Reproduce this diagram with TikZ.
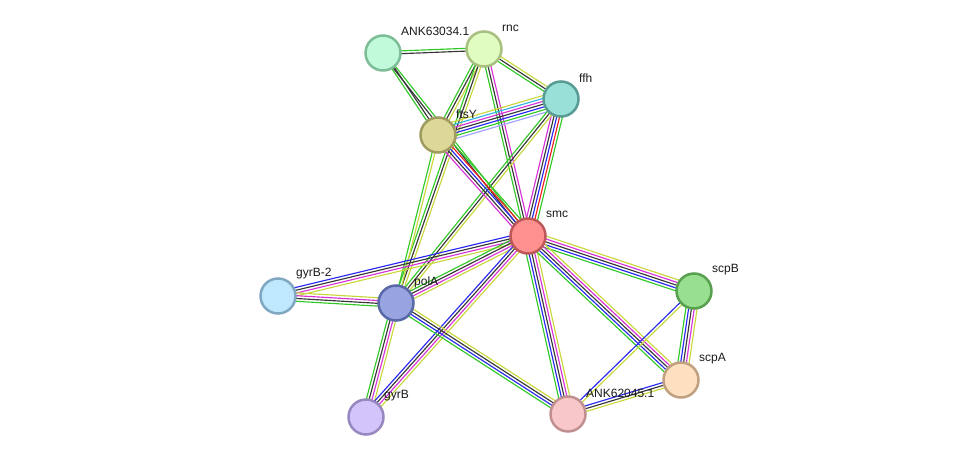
\documentclass[tikz,border=0pt]{standalone}
\usepackage{fontspec}
\setmainfont{Liberation Sans}
\usetikzlibrary{calc,backgrounds}
\definecolor{cG}{RGB}{50,200,40}
\definecolor{cK}{RGB}{55,55,55}
\definecolor{cY}{RGB}{200,215,60}
\definecolor{cM}{RGB}{215,50,215}
\definecolor{cB}{RGB}{40,40,240}
\definecolor{cR}{RGB}{240,30,30}
\definecolor{cC}{RGB}{50,180,225}
\definecolor{cL}{RGB}{160,160,255}
\tikzset{
  prot/.style={circle, draw, line width=2.5pt, minimum size=35pt, inner sep=0pt},
  lbl/.style={anchor=west, inner sep=0pt, text=black!90, font=\fontsize{12}{14}\selectfont},
  edgeline/.style={line width=1.15pt}
}
\newcommand\sedge[3]{%
  \foreach \c [count=\n] in {#3} {\xdef\ncount{\n}}%
  \foreach \c [count=\i] in {#3} {%
    \pgfmathsetmacro\off{(\i-(\ncount+1)/2)*2.8}%
    \draw[\c, edgeline] ($(#1.center)!\off pt!90:(#2.center)$) -- ($(#2.center)!\off pt!-90:(#1.center)$);
  }%
}
\begin{document}
\begin{tikzpicture}[x=1pt,y=-1pt]
\useasboundingbox (0,0) rectangle (976,463);
\node[prot, fill={rgb,255:red,192;green,250;blue,218}, draw={rgb,255:red,125;green,190;blue,150}] (ank630) at (383,53) {};
\node[prot, fill={rgb,255:red,224;green,252;blue,192}, draw={rgb,255:red,168;green,192;blue,128}] (rnc) at (484,49) {};
\node[prot, fill={rgb,255:red,152;green,224;blue,216}, draw={rgb,255:red,88;green,156;blue,148}] (ffh) at (561,99) {};
\node[prot, fill={rgb,255:red,220;green,216;blue,152}, draw={rgb,255:red,160;green,156;blue,96}] (ftsY) at (438,135) {};
\node[prot, fill={rgb,255:red,255;green,144;blue,144}, draw={rgb,255:red,190;green,88;blue,88}] (smc) at (528,236) {};
\node[prot, fill={rgb,255:red,192;green,232;blue,252}, draw={rgb,255:red,128;green,168;blue,192}] (gyrB2) at (278,296) {};
\node[prot, fill={rgb,255:red,152;green,164;blue,224}, draw={rgb,255:red,88;green,104;blue,168}] (polA) at (396,303) {};
\node[prot, fill={rgb,255:red,152;green,224;blue,144}, draw={rgb,255:red,88;green,160;blue,80}] (scpB) at (694,291) {};
\node[prot, fill={rgb,255:red,252;green,224;blue,192}, draw={rgb,255:red,192;green,160;blue,128}] (scpA) at (681,380) {};
\node[prot, fill={rgb,255:red,248;green,200;blue,200}, draw={rgb,255:red,192;green,144;blue,144}] (ank620) at (568,414) {};
\node[prot, fill={rgb,255:red,212;green,196;blue,252}, draw={rgb,255:red,152;green,136;blue,192}] (gyrB) at (366,417) {};

\node[lbl] (l-ank630) at ([shift={(18,-22)}]ank630.center) {ANK63034.1};
\node[lbl] (l-rnc) at ([shift={(18,-21)}]rnc.center) {rnc};
\node[lbl] (l-ffh) at ([shift={(18,-21)}]ffh.center) {ffh};
\node[lbl] (l-ftsY) at ([shift={(18,-21)}]ftsY.center) {ftsY};
\node[lbl] (l-smc) at ([shift={(18,-22)}]smc.center) {smc};
\node[lbl] (l-gyrB2) at ([shift={(18,-22)}]gyrB2.center) {gyrB-2};
\node[lbl] (l-polA) at ([shift={(18,-21)}]polA.center) {polA};
\node[lbl] (l-scpB) at ([shift={(18,-21)}]scpB.center) {scpB};
\node[lbl] (l-scpA) at ([shift={(18,-21)}]scpA.center) {scpA};
\node[lbl] (l-ank620) at ([shift={(18,-21)}]ank620.center) {ANK62045.1};
\node[lbl] (l-gyrB) at ([shift={(18,-21)}]gyrB.center) {gyrB};

\begin{pgfonlayer}{background}
\sedge{ank630}{rnc}{cK,cG}
\sedge{ank630}{ftsY}{cG,cK}
\sedge{ank630}{smc}{cK,cG}
\sedge{rnc}{ftsY}{cG,cK,cY}
\sedge{rnc}{polA}{cG,cK,cY}
\sedge{rnc}{ffh}{cG,cK,cY}
\sedge{rnc}{smc}{cG,cK,cM}
\sedge{ffh}{ftsY}{cY,cC,cM,cK,cB,cG,cL}
\sedge{ffh}{smc}{cM,cK,cB,cR,cG}
\sedge{ffh}{polA}{cG,cK,cY}
\sedge{ftsY}{smc}{cM,cK,cB,cR,cG}
\sedge{ftsY}{polA}{cG,cY}
\sedge{smc}{gyrB2}{cB,cK,cM,cY}
\sedge{smc}{polA}{cG,cK,cM,cY}
\sedge{gyrB2}{polA}{cG,cK,cM,cY}
\sedge{polA}{gyrB}{cG,cK,cM,cY}
\sedge{smc}{gyrB}{cB,cK,cM,cY}
\sedge{polA}{ank620}{cG,cB,cK,cY}
\sedge{smc}{ank620}{cG,cB,cK,cM,cY}
\sedge{smc}{scpB}{cG,cB,cK,cM,cY}
\sedge{smc}{scpA}{cG,cB,cK,cM,cY}
\sedge{scpB}{scpA}{cG,cB,cK,cM,cY}
\sedge{scpB}{ank620}{cB,cY}
\sedge{scpA}{ank620}{cB,cK,cY}
\end{pgfonlayer}
\end{tikzpicture}
\end{document}
